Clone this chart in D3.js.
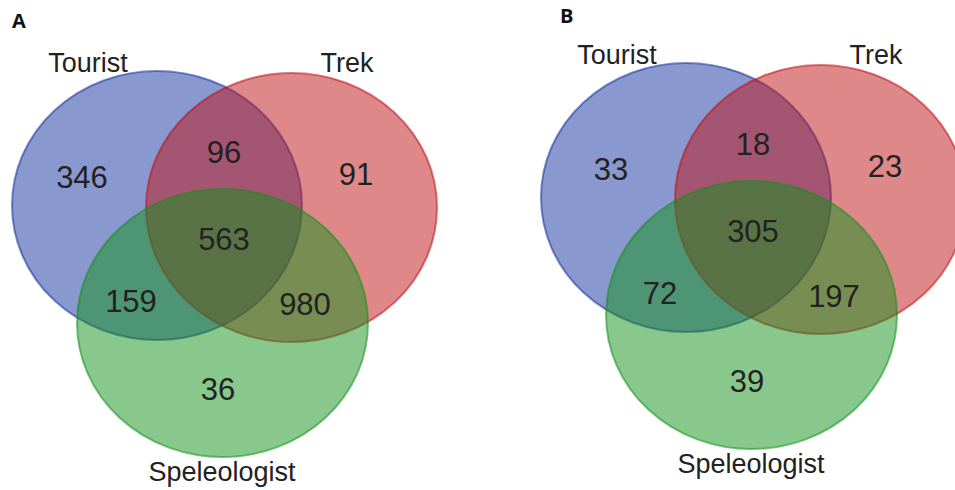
<!DOCTYPE html>
<html>
<head>
<meta charset="utf-8">
<script src="https://cdn.jsdelivr.net/npm/d3@7"></script>
<style>
  html, body { margin: 0; padding: 0; background: #fff; }
  svg { display: block; }
</style>
</head>
<body>
<svg id="chart" width="955" height="490"></svg>
<script>
// ---- data ----
const setNames = ["Tourist", "Trek", "Speleologist"];
const regionKeys = ["Tourist only", "Tourist∩Trek", "Trek only", "All three", "Tourist∩Speleologist", "Trek∩Speleologist", "Speleologist only"];
const panelA = [346, 96, 91, 563, 159, 980, 36];
const panelB = [33, 18, 23, 305, 72, 197, 39];
const panelLetters = ["A", "B"];

// ---- layout (panel-local units, mapped through scales) ----
const setColors = ["#13319d", "#bd1115", "#11911a"];
const ellipses = [ // cx, cy, rx, ry
  [157, 205.5, 145, 134.5],
  [291.5, 207.5, 145.5, 134.5],
  [222.5, 323, 145.5, 134]
];
const setLabelPos = [[88, 72], [347, 72], [222, 481]];
const regionPos = [[82, 188], [224, 163], [356, 185], [224, 250], [131, 312], [305, 315], [218, 400]];
const panels = [
  { letter: panelLetters[0], values: panelA, dx: 0, dy: 0, letterPos: [12, 28] },
  { letter: panelLetters[1], values: panelB, dx: 529, dy: -8, letterPos: [560, 23] }
];

const svg = d3.select("#chart");

panels.forEach(p => {
  const x = d3.scaleLinear().domain([0, 1]).range([p.dx, p.dx + 1]);
  const y = d3.scaleLinear().domain([0, 1]).range([p.dy, p.dy + 1]);
  const g = svg.append("g");

  g.selectAll("ellipse")
    .data(ellipses)
    .join("ellipse")
    .attr("cx", d => x(d[0]))
    .attr("cy", d => y(d[1]))
    .attr("rx", d => d[2])
    .attr("ry", d => d[3])
    .attr("fill", (d, i) => setColors[i])
    .attr("fill-opacity", 0.5)
    .attr("stroke", (d, i) => setColors[i])
    .attr("stroke-opacity", 0.55)
    .attr("stroke-width", 2);

  g.selectAll("text.count")
    .data(p.values)
    .join("text")
    .attr("class", "count")
    .attr("x", (d, i) => x(regionPos[i][0]))
    .attr("y", (d, i) => y(regionPos[i][1]))
    .attr("text-anchor", "middle")
    .attr("font-family", "'Liberation Sans', Arial, Helvetica, sans-serif")
    .attr("font-size", 31)
    .attr("fill", "#222")
    .text(d => d);

  g.selectAll("text.setlabel")
    .data(setNames)
    .join("text")
    .attr("class", "setlabel")
    .attr("x", (d, i) => x(setLabelPos[i][0]))
    .attr("y", (d, i) => y(setLabelPos[i][1]))
    .attr("text-anchor", "middle")
    .attr("font-family", "'Liberation Sans', Arial, Helvetica, sans-serif")
    .attr("font-size", 27)
    .attr("fill", "#222")
    .text(d => d);

  svg.append("text")
    .attr("x", p.letterPos[0])
    .attr("y", p.letterPos[1])
    .attr("font-family", "'Open Sans', 'DejaVu Sans', sans-serif")
    .attr("font-weight", "bold")
    .attr("font-size", 20)
    .attr("fill", "#111")
    .text(p.letter);
});
</script>
</body>
</html>
